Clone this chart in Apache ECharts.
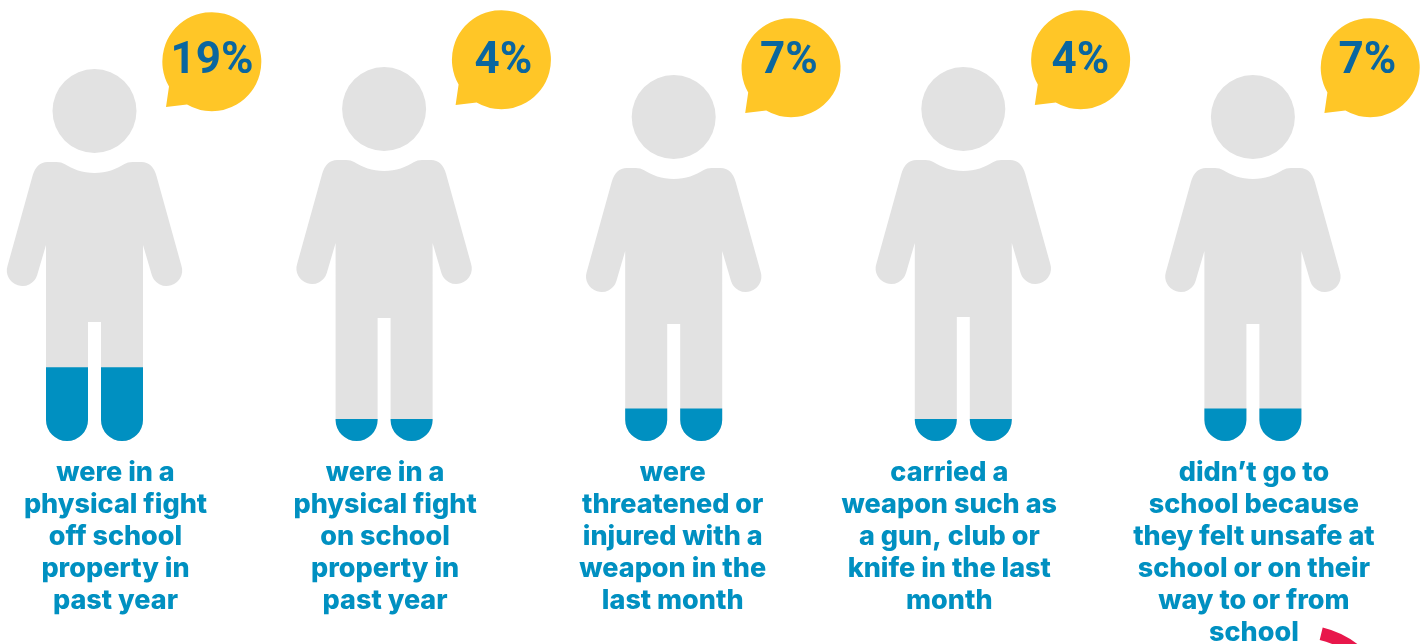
<!DOCTYPE html>
<html>
<head>
<meta charset="utf-8">
<title>School safety</title>
<script src="https://cdn.jsdelivr.net/npm/echarts@6/dist/echarts.min.js"></script>
<style>
  html, body { margin: 0; padding: 0; background: #fff; }
  #chart { width: 1421px; height: 644px; }
</style>
</head>
<body>
<div id="chart"></div>
<script>
// Share of students reporting each experience
const categories = [
  'were in a\nphysical fight\noff school\nproperty in\npast year',
  'were in a\nphysical fight\non school\nproperty in\npast year',
  'were\nthreatened or\ninjured with a\nweapon in the\nlast month',
  'carried a\nweapon such as\na gun, club or\nknife in the last\nmonth',
  'didn\u2019t go to\nschool because\nthey felt unsafe at\nschool or on their\nway to or from\nschool'
];
const percentValues = [19, 4, 7, 4, 7];
const tickLabels = ['19%', '4%', '7%', '4%', '7%'];

// Per-figure placement on the page
const headTops = [69, 67, 75, 67, 75];
const crotchLines = [322, 318, 324, 317, 324];
const captionShifts = [21, 1, -1, -14, 1];
const badgeTextShifts = [0.5, 2.4, -1.7, 0, -2.4];
const FEET_LINE = 441;
const BADGE_TEXT_Y = 62;

const GREY = '#E2E2E2';
const BLUE = '#0090C1';
const YELLOW = '#FFC627';
const NAVY = '#0A669F';

// Outline of a standing figure: head, torso with arms, two rounded legs
function figurePath(cx, top, crotch, feet) {
  const y = d => (top + d).toFixed(1);
  const ex = d => (cx + d).toFixed(1);
  const f = feet - 21;
  return [
    `M ${ex(-42)} ${y(42)} A 42 42 0 1 1 ${ex(42)} ${y(42)} A 42 42 0 1 1 ${ex(-42)} ${y(42)} Z`,
    `M ${ex(0)} ${y(104)} C ${ex(12)} ${y(104)} ${ex(22)} ${y(100)} ${ex(30)} ${y(95)}`,
    `Q ${ex(33)} ${y(93)} ${ex(38)} ${y(93)} L ${ex(47)} ${y(93)}`,
    `Q ${ex(58)} ${y(93)} ${ex(62)} ${y(107)} L ${ex(87)} ${y(197)}`,
    `A 15.5 15.5 0 0 1 ${ex(57.3)} ${y(206)} L ${ex(48.5)} ${y(176)}`,
    `L ${ex(48.5)} ${f} A 21 21 0 0 1 ${ex(6.5)} ${f} L ${ex(6.5)} ${crotch}`,
    `L ${ex(-6.5)} ${crotch} L ${ex(-6.5)} ${f} A 21 21 0 0 1 ${ex(-48.5)} ${f}`,
    `L ${ex(-48.5)} ${y(176)} L ${ex(-57.3)} ${y(206)} A 15.5 15.5 0 0 1 ${ex(-87)} ${y(197)}`,
    `L ${ex(-62)} ${y(107)} Q ${ex(-58)} ${y(93)} ${ex(-47)} ${y(93)} L ${ex(-38)} ${y(93)}`,
    `Q ${ex(-33)} ${y(93)} ${ex(-30)} ${y(95)} C ${ex(-22)} ${y(100)} ${ex(-12)} ${y(104)} ${ex(0)} ${y(104)} Z`
  ].join(' ');
}

// Round speech bubble with a small tail on the lower left
function bubblePath(cx, cy) {
  const r = 49.5;
  const a = [cx - 42.5, cy + 25.5];
  const tip = [cx - 45.5, cy + 46];
  const b = [cx - 24.5, cy + 43.5];
  return `M ${a[0]} ${a[1]} A ${r} ${r} 0 1 1 ${b[0]} ${b[1]} L ${tip[0]} ${tip[1]} Z`;
}

function renderFigure(params, api) {
  const i = api.value(0);
  const value = api.value(1);
  const cx = api.coord([i, 0])[0];
  const level = api.coord([i, value])[1];
  const top = headTops[i];
  const outline = figurePath(cx, top, crotchLines[i], FEET_LINE);
  return {
    type: 'group',
    children: [
      { type: 'path', shape: { pathData: outline }, style: { fill: GREY } },
      {
        type: 'path',
        shape: { pathData: outline },
        style: { fill: BLUE },
        clipPath: { type: 'rect', shape: { x: cx - 60, y: level, width: 120, height: FEET_LINE - level + 2 } }
      },
      { type: 'path', shape: { pathData: bubblePath(cx + 117, top - 8) }, style: { fill: YELLOW } },
      {
        type: 'text',
        style: {
          text: tickLabels[i],
          x: cx + 117 + badgeTextShifts[i],
          y: BADGE_TEXT_Y,
          fill: NAVY,
          font: '700 44px Roboto',
          align: 'center',
          verticalAlign: 'middle'
        }
      },
      {
        type: 'text',
        style: {
          text: categories[i],
          x: cx + captionShifts[i],
          y: 457,
          fill: BLUE,
          font: '800 27px Inter',
          lineHeight: 32,
          align: 'center',
          verticalAlign: 'top'
        }
      }
    ]
  };
}

const chart = echarts.init(document.getElementById('chart'), null, { renderer: 'canvas' });
chart.setOption({
  animation: false,
  backgroundColor: '#fff',
  grid: { left: 94.5, width: 1158.4, top: 0, height: FEET_LINE },
  xAxis: { type: 'category', data: categories, boundaryGap: false, show: false },
  yAxis: { type: 'value', min: -2.4, max: 125.4, show: false },
  series: [{
    type: 'custom',
    coordinateSystem: 'cartesian2d',
    clip: false,
    silent: true,
    renderItem: renderFigure,
    encode: { x: 0, y: 1 },
    data: percentValues.map((v, i) => [i, v])
  }],
  // Edge of a red ring running off the lower right of the page
  graphic: [{
    type: 'sector',
    silent: true,
    shape: { cx: 1300, cy: 720, r0: 82.5, r: 95.2, startAngle: -1.33, endAngle: -0.5, clockwise: true },
    style: { fill: '#E8174B' }
  }]
});
</script>
</body>
</html>
